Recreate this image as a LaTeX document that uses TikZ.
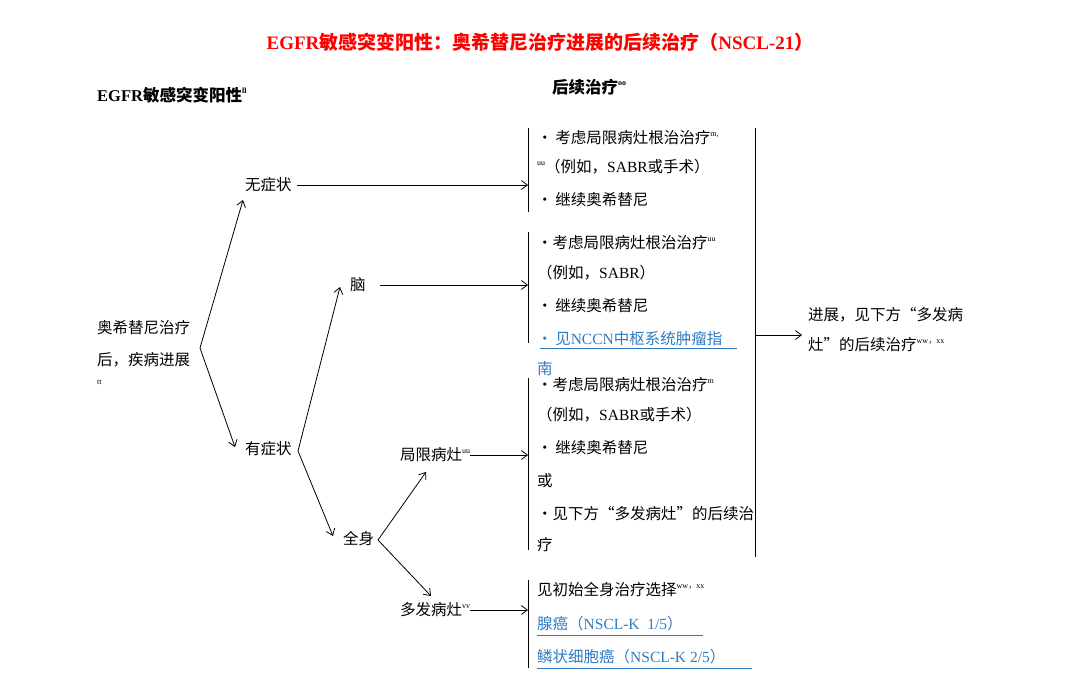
\documentclass[tikz,border=0pt]{standalone}
\usepackage{fontspec}
\setmainfont{Noto Sans CJK SC}
\newfontfamily\lat{Liberation Serif}
\usetikzlibrary{arrows.meta}
\definecolor{lnk}{HTML}{2F7BC0}
\newcommand{\sps}[1]{\raisebox{0.45em}{\fontsize{8}{8}\selectfont #1}}
\begin{document}
\begin{tikzpicture}[x=1pt,y=-1pt,
  txt/.style={anchor=west,inner sep=0pt,font=\fontsize{15.5}{18}\selectfont},
  arr/.style={-{Straight Barb[length=6pt,width=9pt]},line width=0.8pt},
  brk/.style={line width=0.9pt},
  lk/.style={txt,text=lnk}]
\useasboundingbox (0,0) rectangle (1081,698);
% titles
\node[inner sep=0pt,text=red,font=\fontsize{19}{22}\selectfont\bfseries] (title) at (540,42) {{\lat EGFR}敏感突变阳性：奥希替尼治疗进展的后续治疗（{\lat NSCL-21}）};
\node[txt,font=\fontsize{16.5}{18}\selectfont\bfseries] (h1) at (97,95) {{\lat EGFR}敏感突变阳性\sps{\lat ll}};
\node[txt,font=\fontsize{16.5}{18}\selectfont\bfseries] (h2) at (552,87) {后续治疗\sps{\lat oo}};
% left tree
\node[txt] (root1) at (97,328) {奥希替尼治疗};
\node[txt] (root2) at (97,360) {后，疾病进展};
\node[txt,font=\lat\fontsize{8}{8}\selectfont] (tt) at (97,382) {tt};
\coordinate (rb) at (200,348);
\node[txt] (asym) at (245,185) {无症状};
\node[txt] (sym) at (245,449) {有症状};
\node[txt] (brain) at (350,285) {脑};
\node[txt] (whole) at (343,539) {全身};
\node[txt] (loc) at (400,455) {局限病灶\sps{\lat uu}};
\node[txt] (multi) at (400,610) {多发病灶\sps{\lat vv}};
\draw[arr] (rb) -- (243,200);
\draw[arr] (rb) -- (235,447);
\coordinate (sb) at (298,451);
\draw[arr] (sb) -- (340,287);
\draw[arr] (sb) -- (333,536);
\coordinate (wb) at (378,540);
\draw[arr] (wb) -- (426,472);
\draw[arr] (wb) -- (431,596);
% brackets
\coordinate (b1t) at (528,128); \coordinate (b1b) at (528,212);
\coordinate (b2t) at (528,232); \coordinate (b2b) at (528,343);
\coordinate (b3t) at (528,378); \coordinate (b3b) at (528,550);
\coordinate (b4t) at (528,580); \coordinate (b4b) at (528,668);
\foreach \a/\b in {b1t/b1b,b2t/b2b,b3t/b3b,b4t/b4b} \draw[brk] (\a) -- (\b);
\draw[arr] (asym.east)+(5,0) -- (528,185);
\draw[arr] (380,285) -- (528,285);
\draw[arr] (loc.east) -- (528,455);
\draw[arr] (multi.east) -- (528,610);
% bracket texts
\node[txt] (t11) at (537,138) {•\,考虑局限病灶根治治疗\sps{\lat m,}};
\node[txt] (t12) at (537,167) {\sps{\lat uu}（例如，{\lat SABR}或手术）};
\node[txt] (t13) at (537,200) {•\,继续奥希替尼};
\node[txt] (t21) at (537,243) {•考虑局限病灶根治治疗\sps{\lat uu}};
\node[txt] (t22) at (537,273) {（例如，{\lat SABR}）};
\node[txt] (t23) at (537,306) {•\,继续奥希替尼};
\node[lk] (t24) at (537,339) {•\,见{\lat NCCN}中枢系统肿瘤指};
\node[lk] (t25) at (537,369) {南};
\draw[lnk,line width=1pt] (540,348) -- (737,348);
\node[txt] (t31) at (537,385) {•考虑局限病灶根治治疗\sps{\lat m}};
\node[txt] (t32) at (537,415) {（例如，{\lat SABR}或手术）};
\node[txt] (t33) at (537,448) {•\,继续奥希替尼};
\node[txt] (t34) at (537,481) {或};
\node[txt] (t35) at (537,514) {•见下方“多发病灶”的后续治};
\node[txt] (t36) at (537,545) {疗};
\node[txt] (t41) at (537,590) {见初始全身治疗选择\sps{{\lat ww}，{\lat xx}}};
\node[lk] (t42) at (537,624) {腺癌（{\lat NSCL-K\ \ 1/5}）};
\draw[lnk,line width=1pt] (537,635) -- (703,635);
\node[lk] (t43) at (537,657) {鳞状细胞癌（{\lat NSCL-K 2/5}）};
\draw[lnk,line width=1pt] (537,668) -- (752,668);
% right
\coordinate (vt) at (755,128); \coordinate (vb) at (755,557);
\draw[brk] (vt) -- (vb);
\node[txt] (r1) at (808,315) {进展，见下方“多发病};
\node[txt] (r2) at (808,345) {灶”的后续治疗\sps{{\lat ww}，{\lat xx}}};
\draw[arr] (755,335) -- (802,335);
\end{tikzpicture}
\end{document}
